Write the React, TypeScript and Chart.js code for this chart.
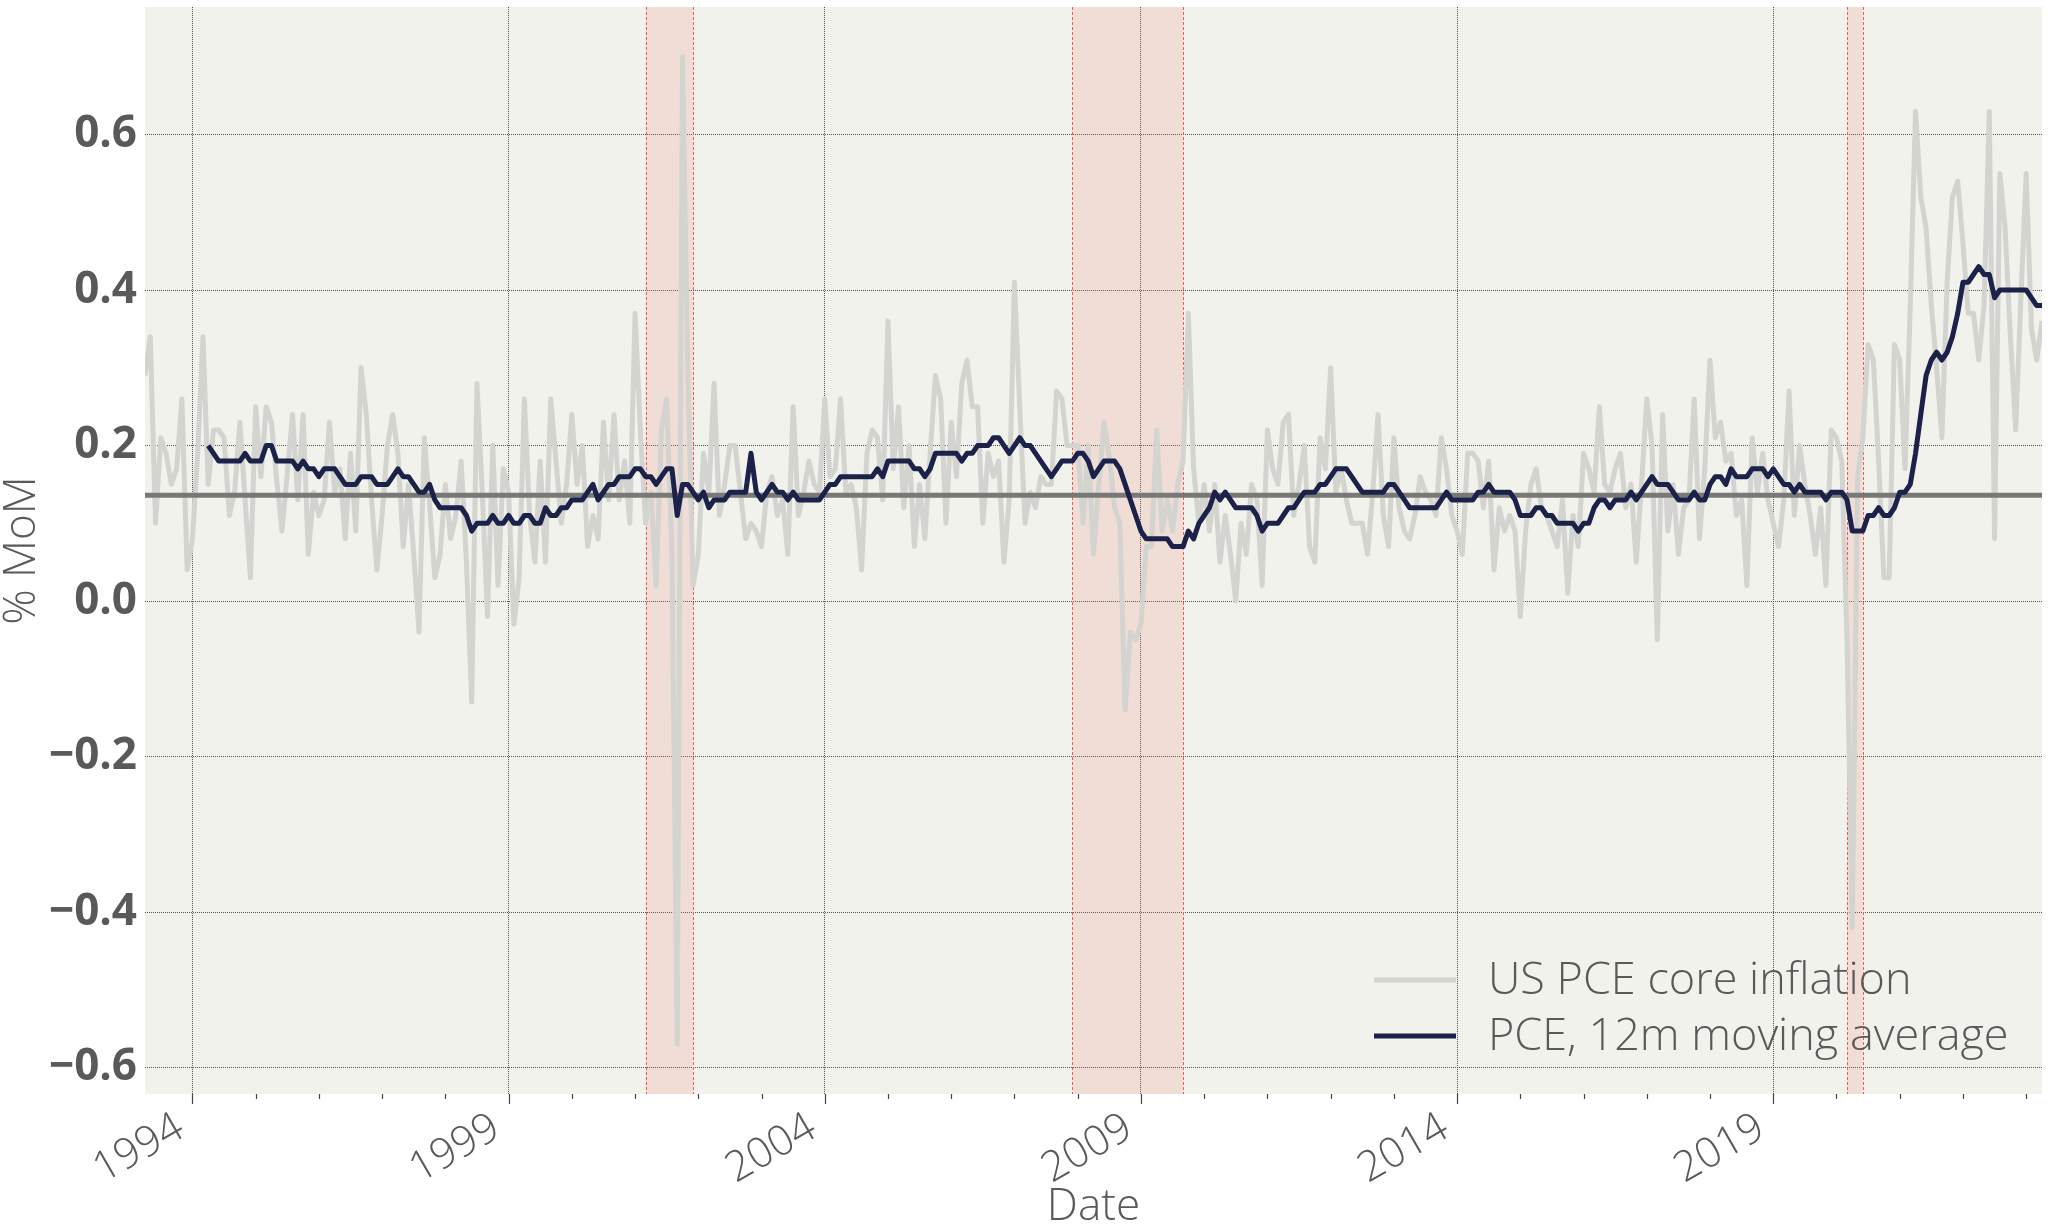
import React, { useEffect, useRef } from "react";
import { Chart, registerables } from "chart.js";

Chart.register(...registerables);

// ---------- DATA ----------
// Monthly observations, first month = April 1993
const START_YEAR = 1993;
const START_MONTH = 4;

// US PCE core inflation, % month on month
const CORE_PCE_MOM = [
  0.29, 0.34, 0.10, 0.21, 0.19, 0.15, 0.17, 0.26, 0.04, 0.08, 0.19, 0.34,
  0.15, 0.22, 0.22, 0.21, 0.11, 0.14, 0.23, 0.13, 0.03, 0.25, 0.16, 0.25,
  0.23, 0.155, 0.09, 0.165, 0.24, 0.13, 0.24, 0.06, 0.14, 0.11, 0.13, 0.23,
  0.14, 0.17, 0.08, 0.19, 0.09, 0.30, 0.24, 0.13, 0.04, 0.11, 0.20, 0.24,
  0.19, 0.07, 0.15, 0.06, -0.04, 0.21, 0.125, 0.03, 0.06, 0.15, 0.08, 0.11,
  0.18, 0.05, -0.13, 0.28, 0.14, -0.02, 0.20, 0.02, 0.17, 0.14, -0.03, 0.03,
  0.26, 0.11, 0.05, 0.18, 0.05, 0.26, 0.18, 0.10, 0.15, 0.24, 0.15, 0.20,
  0.07, 0.11, 0.08, 0.23, 0.13, 0.24, 0.13, 0.18, 0.10, 0.37, 0.22, 0.10,
  0.14, 0.02, 0.22, 0.26, 0.06, -0.57, 0.70, 0.30, 0.02, 0.06, 0.19, 0.14,
  0.28, 0.11, 0.15, 0.20, 0.20, 0.14, 0.08, 0.10, 0.09, 0.07, 0.14, 0.16,
  0.11, 0.13, 0.06, 0.25, 0.11, 0.14, 0.18, 0.15, 0.14, 0.26, 0.16, 0.17,
  0.26, 0.14, 0.15, 0.12, 0.04, 0.19, 0.22, 0.21, 0.13, 0.36, 0.17, 0.25,
  0.12, 0.20, 0.07, 0.15, 0.08, 0.19, 0.29, 0.26, 0.10, 0.23, 0.16, 0.28,
  0.31, 0.25, 0.25, 0.10, 0.19, 0.16, 0.18, 0.05, 0.13, 0.41, 0.25, 0.10,
  0.14, 0.12, 0.16, 0.15, 0.15, 0.27, 0.26, 0.20, 0.20, 0.20, 0.10, 0.20,
  0.06, 0.15, 0.23, 0.185, 0.12, 0.10, -0.14, -0.04, -0.05, -0.03, 0.07, 0.07,
  0.22, 0.09, 0.13, 0.09, 0.15, 0.18, 0.37, 0.17, 0.10, 0.15, 0.09, 0.15,
  0.05, 0.11, 0.06, 0.00, 0.10, 0.06, 0.15, 0.13, 0.02, 0.22, 0.17, 0.15,
  0.23, 0.24, 0.11, 0.15, 0.20, 0.07, 0.05, 0.21, 0.17, 0.30, 0.14, 0.17,
  0.13, 0.10, 0.10, 0.10, 0.06, 0.14, 0.24, 0.11, 0.07, 0.21, 0.12, 0.09,
  0.08, 0.11, 0.16, 0.14, 0.13, 0.11, 0.21, 0.17, 0.11, 0.09, 0.06, 0.19,
  0.19, 0.18, 0.12, 0.18, 0.04, 0.12, 0.09, 0.11, 0.09, -0.02, 0.09, 0.15,
  0.17, 0.12, 0.11, 0.09, 0.07, 0.13, 0.01, 0.11, 0.07, 0.19, 0.17, 0.14,
  0.25, 0.15, 0.14, 0.17, 0.19, 0.12, 0.15, 0.05, 0.15, 0.26, 0.20, -0.05,
  0.24, 0.09, 0.15, 0.06, 0.12, 0.13, 0.26, 0.08, 0.17, 0.31, 0.21, 0.23,
  0.18, 0.19, 0.11, 0.13, 0.02, 0.21, 0.14, 0.19, 0.13, 0.10, 0.07, 0.13,
  0.27, 0.11, 0.20, 0.15, 0.11, 0.06, 0.12, 0.02, 0.22, 0.21, 0.18, -0.05,
  -0.42, 0.16, 0.21, 0.33, 0.31, 0.18, 0.03, 0.03, 0.33, 0.31, 0.17, 0.38,
  0.63, 0.52, 0.48, 0.38, 0.30, 0.21, 0.41, 0.52, 0.54, 0.46, 0.37, 0.37,
  0.31, 0.38, 0.63, 0.08, 0.55, 0.48, 0.34, 0.22, 0.39, 0.55, 0.35, 0.31,
  0.36,
];

// 12m moving average, starts 12 months after the first observation
const MA_FIRST_INDEX = 12;
const PCE_MA_12M = [
  0.20, 0.19, 0.18, 0.18, 0.18, 0.18, 0.18, 0.19, 0.18, 0.18, 0.18, 0.20,
  0.20, 0.18, 0.18, 0.18, 0.18, 0.17, 0.18, 0.17, 0.17, 0.16, 0.17, 0.17,
  0.17, 0.16, 0.15, 0.15, 0.15, 0.16, 0.16, 0.16, 0.15, 0.15, 0.15, 0.16,
  0.17, 0.16, 0.16, 0.15, 0.14, 0.14, 0.15, 0.13, 0.12, 0.12, 0.12, 0.12,
  0.12, 0.11, 0.09, 0.10, 0.10, 0.10, 0.11, 0.10, 0.10, 0.11, 0.10, 0.10,
  0.11, 0.11, 0.10, 0.10, 0.12, 0.11, 0.11, 0.12, 0.12, 0.13, 0.13, 0.13,
  0.14, 0.15, 0.13, 0.14, 0.15, 0.15, 0.16, 0.16, 0.16, 0.17, 0.17, 0.16,
  0.16, 0.15, 0.16, 0.17, 0.17, 0.11, 0.15, 0.15, 0.14, 0.13, 0.14, 0.12,
  0.13, 0.13, 0.13, 0.14, 0.14, 0.14, 0.14, 0.19, 0.14, 0.13, 0.14, 0.15,
  0.14, 0.14, 0.13, 0.14, 0.13, 0.13, 0.13, 0.13, 0.13, 0.14, 0.15, 0.15,
  0.16, 0.16, 0.16, 0.16, 0.16, 0.16, 0.16, 0.17, 0.16, 0.18, 0.18, 0.18,
  0.18, 0.18, 0.17, 0.17, 0.16, 0.17, 0.19, 0.19, 0.19, 0.19, 0.19, 0.18,
  0.19, 0.19, 0.20, 0.20, 0.20, 0.21, 0.21, 0.20, 0.19, 0.20, 0.21, 0.20,
  0.20, 0.19, 0.18, 0.17, 0.16, 0.17, 0.18, 0.18, 0.18, 0.19, 0.19, 0.18,
  0.16, 0.17, 0.18, 0.18, 0.18, 0.17, 0.15, 0.13, 0.11, 0.09, 0.08, 0.08,
  0.08, 0.08, 0.08, 0.07, 0.07, 0.07, 0.09, 0.08, 0.10, 0.11, 0.12, 0.14,
  0.13, 0.14, 0.13, 0.12, 0.12, 0.12, 0.12, 0.11, 0.09, 0.10, 0.10, 0.10,
  0.11, 0.12, 0.12, 0.13, 0.14, 0.14, 0.14, 0.15, 0.15, 0.16, 0.17, 0.17,
  0.17, 0.16, 0.15, 0.14, 0.14, 0.14, 0.14, 0.14, 0.15, 0.15, 0.14, 0.13,
  0.12, 0.12, 0.12, 0.12, 0.12, 0.12, 0.13, 0.14, 0.13, 0.13, 0.13, 0.13,
  0.13, 0.14, 0.14, 0.15, 0.14, 0.14, 0.14, 0.14, 0.13, 0.11, 0.11, 0.11,
  0.12, 0.12, 0.11, 0.11, 0.10, 0.10, 0.10, 0.10, 0.09, 0.10, 0.10, 0.12,
  0.13, 0.13, 0.12, 0.13, 0.13, 0.13, 0.14, 0.13, 0.14, 0.15, 0.16, 0.15,
  0.15, 0.15, 0.14, 0.13, 0.13, 0.13, 0.14, 0.13, 0.13, 0.15, 0.16, 0.16,
  0.15, 0.17, 0.16, 0.16, 0.16, 0.17, 0.17, 0.17, 0.16, 0.17, 0.16, 0.15,
  0.15, 0.14, 0.15, 0.14, 0.14, 0.14, 0.14, 0.13, 0.14, 0.14, 0.14, 0.13,
  0.09, 0.09, 0.09, 0.11, 0.11, 0.12, 0.11, 0.11, 0.12, 0.14, 0.14, 0.15,
  0.19, 0.24, 0.29, 0.31, 0.32, 0.31, 0.32, 0.34, 0.37, 0.41, 0.41, 0.42,
  0.43, 0.42, 0.42, 0.39, 0.40, 0.40, 0.40, 0.40, 0.40, 0.40, 0.39, 0.38,
  0.38,
];

// Long-run mean of the monthly series (horizontal reference line)
const MEAN_MOM = 0.136;

// Recession bands: [startYear, startMonth, endYear, endMonth]
const RECESSIONS: number[][] = [
  [2001, 3, 2001, 12],
  [2007, 12, 2009, 9],
  [2020, 3, 2020, 6],
];

const Y_TICKS = [-0.6, -0.4, -0.2, 0, 0.2, 0.4, 0.6];
const X_MAJOR_TICKS = [1994, 1999, 2004, 2009, 2014, 2019];
const X_MINOR_TICKS = [
  1995, 1996, 1997, 1998, 2000, 2001, 2002, 2003, 2005, 2006, 2007, 2008,
  2010, 2011, 2012, 2013, 2015, 2016, 2017, 2018, 2020, 2021, 2022, 2023,
];
const Y_MIN = -0.634;
const Y_MAX = 0.764;

const SERIES_LABELS = ["US PCE core inflation", "PCE, 12m moving average"];
const X_TITLE = "Date";
const Y_TITLE = "% MoM";

// ---------- STYLE ----------
const FAMILY = "'Open Sans', 'Noto Sans', 'DejaVu Sans', sans-serif";
const TEXT_COLOR = "#595959";
const GRAY = "#d3d3d0";
const NAVY = "#1b2149";
const MEAN_COLOR = "#787876";
const PLOT_BG = "#f2f2ed";
const GRID_COLOR = "#555555";

const monthX = (idx: number) => START_YEAR + (START_MONTH - 1 + idx) / 12;
const ymX = (y: number, m: number) => y + (m - 1) / 12;

const backgroundPlugin = {
  id: "bg",
  beforeDraw(chart: any) {
    const { ctx, chartArea, width, height } = chart;
    ctx.save();
    ctx.fillStyle = "#ffffff";
    ctx.fillRect(0, 0, width, height);
    ctx.fillStyle = PLOT_BG;
    ctx.fillRect(chartArea.left, chartArea.top, chartArea.right - chartArea.left, chartArea.bottom - chartArea.top);
    ctx.restore();
  },
};

const recessionPlugin = {
  id: "recessions",
  beforeDatasetsDraw(chart: any) {
    const { ctx, chartArea } = chart;
    const xs = chart.scales.x;
    ctx.save();
    for (const r of RECESSIONS) {
      const x1 = xs.getPixelForValue(ymX(r[0], r[1]));
      const x2 = xs.getPixelForValue(ymX(r[2], r[3]));
      ctx.fillStyle = "rgba(232, 120, 95, 0.16)";
      ctx.fillRect(x1, chartArea.top, x2 - x1, chartArea.bottom - chartArea.top);
      ctx.strokeStyle = "#ee5a5a";
      ctx.lineWidth = 1;
      ctx.setLineDash([3, 2]);
      for (const x of [x1, x2]) {
        ctx.beginPath();
        ctx.moveTo(Math.round(x) + 0.5, chartArea.top);
        ctx.lineTo(Math.round(x) + 0.5, chartArea.bottom);
        ctx.stroke();
      }
    }
    ctx.restore();
  },
};

const ticksPlugin = {
  id: "xticks",
  afterDraw(chart: any) {
    const { ctx, chartArea } = chart;
    const xs = chart.scales.x;
    ctx.save();
    ctx.strokeStyle = "#444444";
    ctx.lineWidth = 1.2;
    const draw = (vals: number[], len: number) => {
      for (const v of vals) {
        const x = Math.round(xs.getPixelForValue(v)) + 0.5;
        ctx.beginPath();
        ctx.moveTo(x, chartArea.bottom);
        ctx.lineTo(x, chartArea.bottom + len);
        ctx.stroke();
      }
    };
    draw(X_MAJOR_TICKS, 10);
    draw(X_MINOR_TICKS, 5);
    ctx.restore();
  },
};

const legendPlugin = {
  id: "insideLegend",
  afterDraw(chart: any) {
    const { ctx, chartArea } = chart;
    const items = [
      { label: chart.data.datasets[2].label, color: GRAY, width: 5 },
      { label: chart.data.datasets[0].label, color: NAVY, width: 5 },
    ];
    ctx.save();
    ctx.font = `300 45px ${FAMILY}`;
    ctx.textBaseline = "middle";
    ctx.textAlign = "left";
    items.forEach((it, i) => {
      const y = chartArea.bottom - 114 + i * 56;
      ctx.strokeStyle = it.color;
      ctx.lineWidth = it.width;
      ctx.beginPath();
      ctx.moveTo(chartArea.right - 668, y);
      ctx.lineTo(chartArea.right - 586, y);
      ctx.stroke();
      ctx.fillStyle = TEXT_COLOR;
      ctx.fillText(it.label, chartArea.right - 554, y + 1);
    });
    ctx.restore();
  },
};

export default function App() {
  const ref = useRef<HTMLCanvasElement>(null);

  useEffect(() => {
    if (!ref.current) return;
    const pce = CORE_PCE_MOM.map((v, i) => ({ x: monthX(i), y: v }));
    const ma = PCE_MA_12M.map((v, i) => ({ x: monthX(MA_FIRST_INDEX + i), y: v }));
    const xMin = monthX(0);
    const xMax = monthX(CORE_PCE_MOM.length - 1);
    const mean = [
      { x: xMin, y: MEAN_MOM },
      { x: xMax, y: MEAN_MOM },
    ];

    const chart = new Chart(ref.current, {
      type: "line",
      data: {
        datasets: [
          {
            label: SERIES_LABELS[1],
            data: ma,
            borderColor: NAVY,
            borderWidth: 5,
            pointRadius: 0,
            tension: 0,
            borderJoinStyle: "round",
            clip: 0,
            order: 0,
          },
          {
            label: "mean",
            data: mean,
            borderColor: MEAN_COLOR,
            borderWidth: 5,
            pointRadius: 0,
            clip: 0,
            order: 1,
          },
          {
            label: SERIES_LABELS[0],
            data: pce,
            borderColor: GRAY,
            borderWidth: 5,
            pointRadius: 0,
            tension: 0,
            borderJoinStyle: "round",
            clip: 0,
            order: 2,
          },
        ],
      } as any,
      options: {
        animation: false,
        responsive: false,
        devicePixelRatio: 1,
        parsing: false,
        normalized: true,
        layout: { padding: { left: 0, top: 7, right: 6, bottom: 0 } },
        plugins: {
          legend: { display: false },
          tooltip: { enabled: false },
        },
        scales: {
          x: {
            type: "linear",
            min: xMin,
            max: xMax,
            afterBuildTicks: (s: any) => {
              s.ticks = X_MAJOR_TICKS.map((v) => ({ value: v }));
            },
            afterFit: (s: any) => {
              s.height = 138;
              s.paddingLeft = 0;
              s.paddingRight = 0;
              s.paddingTop = 0;
              s.paddingBottom = 0;
            },
            grid: { color: GRID_COLOR, lineWidth: 1, drawTicks: false },
            border: { display: false, dash: [1, 1] },
            ticks: {
              autoSkip: false,
              minRotation: 30,
              maxRotation: 30,
              padding: 9,
              labelOffset: -12,
              color: TEXT_COLOR,
              font: { family: FAMILY, size: 42, weight: "300" as any },
              callback: (v: any) => String(v),
            },
            title: {
              display: true,
              text: X_TITLE,
              color: TEXT_COLOR,
              font: { family: FAMILY, size: 44, weight: "300" as any, lineHeight: 1.0 },
              padding: { top: 0, bottom: 3 },
            },
          },
          y: {
            type: "linear",
            min: Y_MIN,
            max: Y_MAX,
            afterBuildTicks: (s: any) => {
              s.ticks = Y_TICKS.map((v) => ({ value: v }));
            },
            afterFit: (s: any) => {
              s.width = 145;
              s.paddingLeft = 0;
              s.paddingRight = 0;
              s.paddingTop = 0;
              s.paddingBottom = 0;
            },
            grid: { color: GRID_COLOR, lineWidth: 1, drawTicks: false },
            border: { display: false, dash: [1, 1] },
            ticks: {
              padding: 8,
              color: TEXT_COLOR,
              font: { family: FAMILY, size: 44, weight: "bold" as any },
              callback: (v: any) => {
                const n = Number(v);
                const s = Math.abs(n).toFixed(1);
                return n < -1e-9 ? "\u2212" + s : s;
              },
            },
            title: {
              display: true,
              text: Y_TITLE,
              color: TEXT_COLOR,
              font: { family: FAMILY, size: 44, weight: "300" as any, lineHeight: 1 },
              padding: { top: 0, bottom: 0 },
            },
          },
        },
      } as any,
      plugins: [backgroundPlugin, recessionPlugin, ticksPlugin, legendPlugin],
    });
    return () => chart.destroy();
  }, []);

  return (
    <div style={{ position: "absolute", left: 0, top: 0, width: 2048, height: 1232 }}>
      <canvas ref={ref} width={2048} height={1232} style={{ display: "block" }} />
    </div>
  );
}
